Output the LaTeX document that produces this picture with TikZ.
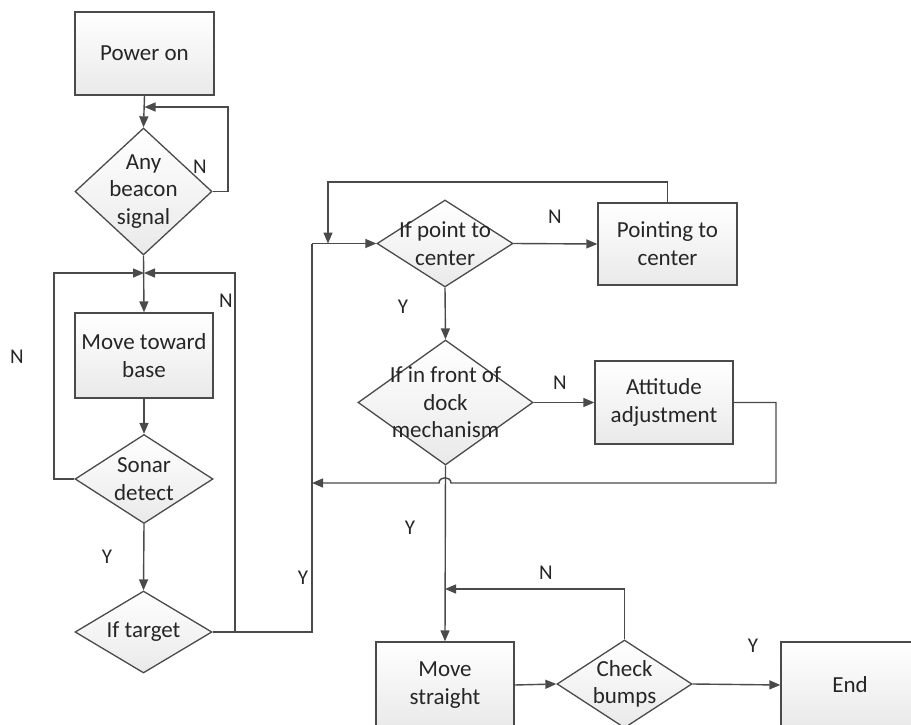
\documentclass[tikz,border=0pt]{standalone}
\usepackage{fontspec}
\setmainfont{Carlito}
\usetikzlibrary{shapes.geometric,arrows.meta}
\definecolor{lnc}{HTML}{4A4A4A}
\definecolor{txc}{HTML}{262626}
\begin{document}
\begin{tikzpicture}[x=1pt,y=-1pt,
  box/.style={draw=lnc,line width=1.3pt,rectangle,inner sep=0pt,top color=white,bottom color=gray!17,
    font=\fontsize{23}{28}\selectfont,align=center,text=txc},
  dia/.style={draw=lnc,line width=1.3pt,diamond,inner sep=0pt,top color=white,bottom color=gray!17},
  dtext/.style={font=\fontsize{23}{27.5}\selectfont,align=center,text=txc,inner sep=0pt},
  yn/.style={font=\fontsize{21}{24}\selectfont,text=txc,inner sep=0pt},
  wire/.style={draw=lnc,line width=1.4pt},
  arr/.style={wire,-{Triangle[length=11pt,width=9pt]}}
]
\useasboundingbox (0,0) rectangle (911,725);

% nodes
\node[box,minimum width=139pt,minimum height=83pt] (pwr) at (144.5,53.5) {Power on};
\node[dia,minimum width=137pt,minimum height=127pt,label={[dtext]center:Any\\beacon\\signal}] (beacon) at (143.5,191.5) {};
\node[box,minimum width=138pt,minimum height=85pt] (move) at (144,355.5) {Move toward\\base};
\node[dia,minimum width=138pt,minimum height=89pt,label={[dtext]center:Sonar\\detect}] (sonar) at (144,479) {};
\node[dia,minimum width=137pt,minimum height=82pt,label={[dtext]center:If target}] (target) at (143.5,632) {};
\node[dia,minimum width=136pt,minimum height=87pt,label={[dtext]center:If point to\\center}] (ptc) at (445,243.5) {};
\node[box,minimum width=139pt,minimum height=82pt] (pointing) at (667.5,244) {Pointing to\\center};
\node[dia,minimum width=175pt,minimum height=125pt,label={[dtext]center:If in front of\\dock\\mechanism}] (front) at (445.5,402.5) {};
\node[box,minimum width=138pt,minimum height=83pt] (att) at (664,402.5) {Attitude\\adjustment};
\node[box,minimum width=138pt,minimum height=86pt] (mstr) at (445,685) {Move\\straight};
\node[dia,minimum width=135pt,minimum height=88pt,label={[dtext]center:Check\\bumps}] (chk) at (624.5,684) {};
\node[box,minimum width=138pt,minimum height=86pt] (endn) at (850,685) {End};

% junction coordinates
\coordinate (j1) at (144.5,107);
\coordinate (j2) at (144,273);
\coordinate (j3) at (328,243.5);
\coordinate (j4) at (312,483);
\coordinate (j5) at (445,589);

% connectors
\draw[arr] (pwr.south) -- (beacon.north);
\draw[arr] (beacon.east) -- (228,191.5) -- (228,107) -- (j1);
\draw[arr] (beacon.south) -- (move.north);
\draw[arr] (sonar.west) -- (54,479) -- (54,273) -- (j2);
\draw[arr] (target.east) -- (235,632) -- (235,273) -- (j2);
\draw[wire] (235,632) -- (312,632) -- (312,243.5);
\draw[arr] (312,243.5) -- (ptc.west);
\draw[arr] (move.south) -- (sonar.north);
\draw[arr] (sonar.south) -- (target.north);
\draw[arr] (ptc.east) -- (pointing.west);
\draw[arr] (pointing.north) -- (667.5,182) -- (328,182) -- (j3);
\draw[arr] (ptc.south) -- (front.north);
\draw[arr] (front.east) -- (att.west);
\draw[arr] (att.east) -- (776,402.5) -- (776,483) -- (451,483)
  .. controls (451,476) and (439,476) .. (439,483) -- (j4);
\draw[arr] (front.south) -- (mstr.north);
\draw[arr] (mstr.east) -- (chk.west);
\draw[arr] (chk.north) -- (624.5,589) -- (j5);
\draw[arr] (chk.east) -- (endn.west);

% labels
\node[yn] (l1) at (200,167) {N};
\node[yn] (l2) at (226,301) {N};
\node[yn] (l3) at (17,357) {N};
\node[yn] (l4) at (107,557) {Y};
\node[yn] (l5) at (303,578) {Y};
\node[yn] (l6) at (555,217) {N};
\node[yn] (l7) at (403,307) {Y};
\node[yn] (l8) at (560,383) {N};
\node[yn] (l9) at (410,528) {Y};
\node[yn] (l10) at (546,573) {N};
\node[yn] (l11) at (753,646) {Y};
\end{tikzpicture}
\end{document}
